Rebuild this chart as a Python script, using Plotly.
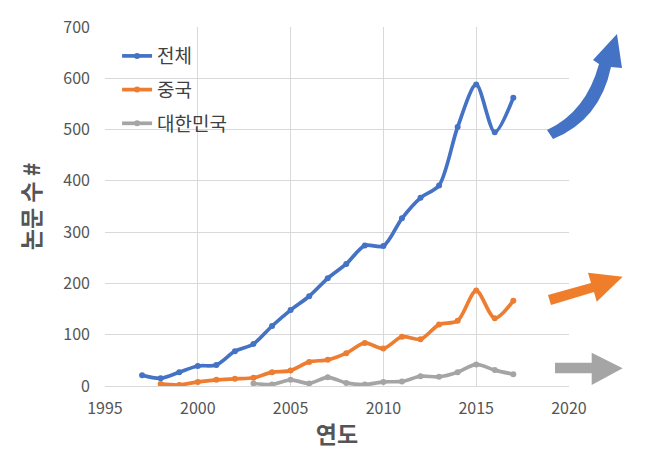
import plotly.graph_objects as go

# ---- data ----
years_total = [1997, 1998, 1999, 2000, 2001, 2002, 2003, 2004, 2005, 2006, 2007,
               2008, 2009, 2010, 2011, 2012, 2013, 2014, 2015, 2016, 2017]
total = [21, 15, 27, 39, 41, 68, 82, 117, 148, 175, 210,
         238, 274, 273, 327, 367, 391, 505, 588, 495, 562]

years_china = [1998, 1999, 2000, 2001, 2002, 2003, 2004, 2005, 2006, 2007,
               2008, 2009, 2010, 2011, 2012, 2013, 2014, 2015, 2016, 2017]
china = [4, 2, 8, 12, 14, 16, 27, 30, 47, 51,
         64, 84, 73, 96, 91, 120, 127, 186, 132, 166]

years_korea = [2003, 2004, 2005, 2006, 2007, 2008, 2009, 2010, 2011, 2012,
               2013, 2014, 2015, 2016, 2017]
korea = [5, 3, 12, 5, 17, 6, 3, 8, 9, 19, 18, 27, 42, 31, 23]

names = ["전체", "중국", "대한민국"]
colors = ["#4472C4", "#ED7D31", "#A5A5A5"]

x_title = "연도"
y_title = "논문 수 #"

# ---- layout geometry ----
W, H = 657, 461
L, R, T, B = 105, 88, 27, 75
PW, PH = W - L - R, H - T - B


def pp(x, y):
    """pixel -> paper coordinates"""
    return (x - L) / PW, 1 - (y - T) / PH


def path(cmds):
    out = []
    for c in cmds:
        if isinstance(c, str):
            out.append(c)
        else:
            px, py = pp(*c)
            out.append(f"{px:.4f},{py:.4f}")
    return " ".join(out)


FONT = "Noto Sans CJK KR, Malgun Gothic, sans-serif"
TXT = "#555555"

fig = go.Figure()
series = [(years_total, total), (years_china, china), (years_korea, korea)]
for i, ((xs, ys), name, col) in enumerate(zip(series, names, colors)):
    fig.add_trace(go.Scatter(
        x=xs, y=ys, name=name, mode="lines+markers",
        line=dict(color=col, width=3.7, shape="spline", smoothing=0.8),
        marker=dict(color=col, size=6),
        legendgroup=f"g{i}",
    ))

# decorative arrows
arrow_blue = path(["M", (547, 130), "Q", (586, 112), (599, 64), "L", (593, 60),
                   "L", (617, 34), "L", (622, 68), "L", (611, 67),
                   "Q", (600, 120), (553, 139), "Z"])
arrow_orange = path(["M", (548, 295), "L", (591, 283), "L", (588, 272.7),
                     "L", (622.7, 276.7), "L", (596.7, 301.7), "L", (594, 292),
                     "L", (551, 305), "Z"])
arrow_gray = path(["M", (555, 362.7), "L", (591.7, 362.7), "L", (591.7, 352.7),
                   "L", (622.7, 368.3), "L", (591.7, 385), "L", (591.7, 373.3),
                   "L", (555, 373.3), "Z"])
shapes = []
for p, col in zip([arrow_blue, arrow_orange, arrow_gray], ["#4472C4", "#F07D2A", "#A5A5A5"]):
    shapes.append(dict(type="path", path=p, xref="paper", yref="paper",
                       fillcolor=col, line=dict(width=0), layer="above"))

fig.update_layout(
    width=W, height=H,
    margin=dict(l=L, r=R, t=T, b=B),
    paper_bgcolor="white", plot_bgcolor="white",
    font=dict(family=FONT, color=TXT),
    shapes=shapes,
    showlegend=True,
    legend=dict(x=0.026, y=0.972, xanchor="left", yanchor="top",
                font=dict(size=19, color="#404040", family=FONT),
                bgcolor="rgba(0,0,0,0)", tracegroupgap=6,
                itemwidth=30),
)
fig.update_xaxes(
    range=[1995, 2020], dtick=5, tick0=1995,
    showgrid=True, gridcolor="#D9D9D9", gridwidth=1,
    showline=True, linecolor="#D9D9D9", zeroline=False,
    ticks="", tickfont=dict(size=16, color=TXT), ticklabelstandoff=8,
    title=dict(text=f"<b>{x_title}</b>", font=dict(size=23, color=TXT), standoff=8),
)
fig.update_yaxes(
    range=[0, 700], dtick=100,
    showgrid=True, gridcolor="#D9D9D9", gridwidth=1,
    showline=False, zeroline=False,
    ticks="", tickfont=dict(size=16, color=TXT), ticklabelstandoff=14,
    title=dict(text=f"<b>{y_title}</b>", font=dict(size=23, color=TXT), standoff=16),
)

fig.write_html("out.html")
